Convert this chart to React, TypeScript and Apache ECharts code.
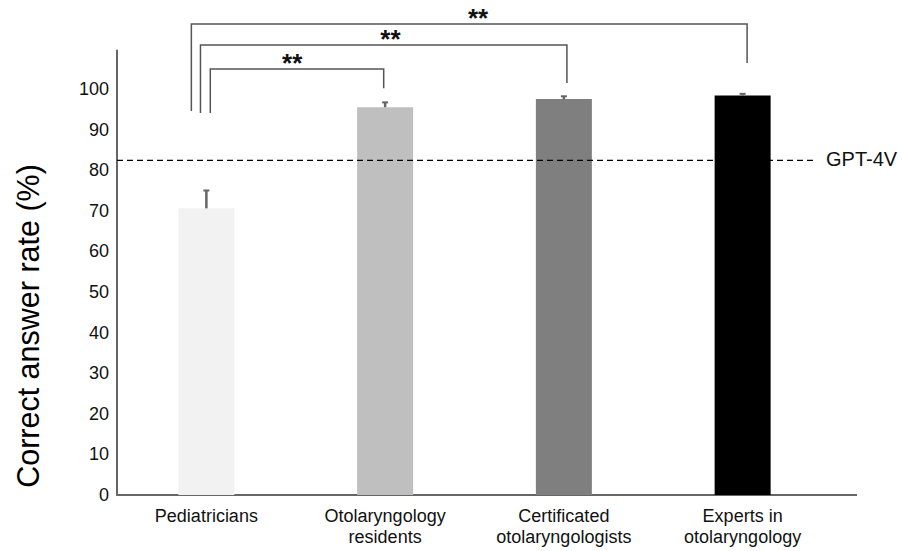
import React, { useEffect, useRef } from "react";
import * as echarts from "echarts";

const categories = [
  "Pediatricians",
  "Otolaryngology\nresidents",
  "Certificated\notolaryngologists",
  "Experts in\notolaryngology",
];
const meanRate = [70.6, 95.5, 97.5, 98.4];
const sdRate = [4.4, 1.2, 0.7, 0.4];
const barColors = ["#f2f2f2", "#bfbfbf", "#7f7f7f", "#000000"];
const gpt4vRate = 82.4;
const gpt4vLabel = "GPT-4V";

// significance brackets (positions in category units / value units)
const bracketFrom = [0.022, -0.033, -0.084];
const bracketTo = [0.992, 2.017, 3.025];
const bracketTop = [104.9, 110.8, 116.0];
const bracketLeftBottom = [94.1, 94.1, 94.6];
const bracketRightBottom = [100.2, 101.5, 106.4];
const starPos = [0.48, 1.03, 1.52];
const starLabels = ["**", "**", "**"];

const FONT = "'Liberation Sans', Arial, Helvetica, sans-serif";

function catX(api: any, f: number, yv: number) {
  const n = categories.length;
  let i = Math.floor(f);
  if (i < 0) i = 0;
  if (i > n - 2) i = n - 2;
  const p0 = api.coord([i, yv]);
  const p1 = api.coord([i + 1, yv]);
  return p0[0] + (p1[0] - p0[0]) * (f - i);
}

export default function App() {
  const ref = useRef<HTMLDivElement>(null);
  useEffect(() => {
    document.body.style.margin = "0";
    const chart = echarts.init(ref.current!, null, { renderer: "svg" });
    chart.setOption({
      animation: false,
      backgroundColor: "#ffffff",
      grid: {
        left: 117,
        right: 70,
        top: 50.4,
        bottom: 56,
        outerBoundsMode: "none",
        containLabel: false,
      },
      xAxis: {
        type: "category",
        data: categories,
        axisLine: { show: true, lineStyle: { color: "#666666", width: 2 } },
        axisTick: { show: false },
        axisLabel: {
          color: "#111111",
          fontSize: 18,
          fontFamily: FONT,
          lineHeight: 21,
          margin: 10,
          interval: 0,
        },
      },
      yAxis: {
        type: "value",
        min: 0,
        max: 109.5,
        interval: 10,
        axisLine: { show: true, lineStyle: { color: "#666666", width: 2 } },
        axisTick: { show: false },
        splitLine: { show: false },
        axisLabel: {
          color: "#111111",
          fontSize: 18,
          fontFamily: FONT,
          margin: 8,
          showMaxLabel: false,
        },
      },
      graphic: [
        {
          type: "text",
          x: 28,
          y: 326,
          rotation: Math.PI / 2,
          style: {
            text: "Correct answer rate (%)",
            fontSize: 30.5,
            fontFamily: FONT,
            fill: "#000000",
            align: "center",
            verticalAlign: "middle",
          },
        },
        {
          type: "line",
          shape: { x1: 830, y1: 495, x2: 857, y2: 495 },
          style: { stroke: "#666666", lineWidth: 2 },
        },
      ],
      series: [
        {
          type: "bar",
          barWidth: 56,
          data: meanRate.map((v, i) => ({
            value: v,
            itemStyle: { color: barColors[i] },
          })),
          z: 2,
        },
        {
          type: "custom",
          z: 5,
          clip: false,
          data: meanRate.map((m, i) => [i, m, m + sdRate[i]]),
          renderItem: (params: any, api: any) => {
            const x = api.value(0);
            const b = api.coord([x, api.value(1)]);
            const t = api.coord([x, api.value(2)]);
            const st = { stroke: "#666666", lineWidth: 2.5 };
            return {
              type: "group",
              children: [
                {
                  type: "line",
                  shape: { x1: b[0], y1: b[1], x2: t[0], y2: t[1] },
                  style: st,
                },
                {
                  type: "line",
                  shape: { x1: t[0] - 3, y1: t[1], x2: t[0] + 3, y2: t[1] },
                  style: { stroke: "#666666", lineWidth: 2 },
                },
              ],
            };
          },
        },
        {
          type: "custom",
          z: 4,
          clip: false,
          data: [[0, gpt4vRate]],
          renderItem: (params: any, api: any) => {
            const y = api.coord([0, api.value(1)])[1];
            const cs = params.coordSys;
            const xEnd = cs.x + cs.width - 15;
            return {
              type: "group",
              children: [
                {
                  type: "line",
                  shape: { x1: cs.x, y1: y, x2: xEnd, y2: y },
                  style: { stroke: "#000000", lineWidth: 1.3, lineDash: [6, 4] },
                },
                {
                  type: "text",
                  style: {
                    text: gpt4vLabel,
                    x: xEnd + 9,
                    y: y - 1,
                    fontSize: 20,
                    fontFamily: FONT,
                    fill: "#111111",
                    align: "left",
                    verticalAlign: "middle",
                  },
                },
              ],
            };
          },
        },
        {
          type: "custom",
          z: 6,
          clip: false,
          data: bracketTop.map((t) => [0, t]),
          renderItem: (params: any, api: any) => {
            const k = params.dataIndex;
            const yTop = api.coord([0, bracketTop[k]])[1];
            const yLb = api.coord([0, bracketLeftBottom[k]])[1];
            const yRb = api.coord([0, bracketRightBottom[k]])[1];
            const xL = catX(api, bracketFrom[k], 0);
            const xR = catX(api, bracketTo[k], 0);
            const xS = catX(api, starPos[k], 0);
            return {
              type: "group",
              children: [
                {
                  type: "polyline",
                  shape: {
                    points: [
                      [xL, yLb],
                      [xL, yTop],
                      [xR, yTop],
                      [xR, yRb],
                    ],
                  },
                  style: { stroke: "#555555", lineWidth: 1.5, fill: null },
                },
                {
                  type: "text",
                  style: {
                    text: starLabels[k],
                    x: xS,
                    y: yTop - 6,
                    fontSize: 26,
                    fontWeight: "bold",
                    fontFamily: FONT,
                    fill: "#111111",
                    align: "center",
                    verticalAlign: "middle",
                  },
                },
              ],
            };
          },
        },
      ],
    });
    return () => chart.dispose();
  }, []);
  return <div ref={ref} style={{ width: 902, height: 551 }} />;
}
